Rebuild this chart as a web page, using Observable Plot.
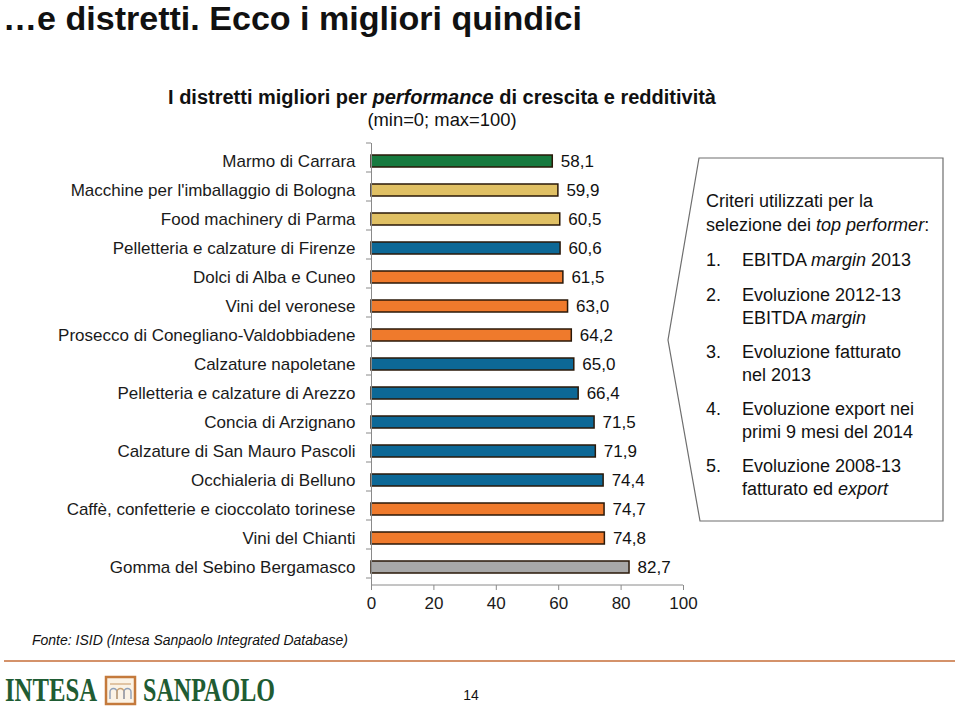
<!DOCTYPE html>
<html><head><meta charset="utf-8">
<script src="https://cdn.jsdelivr.net/npm/d3@7"></script>
<script src="https://cdn.jsdelivr.net/npm/@observablehq/plot@0.6"></script>
<style>
body{margin:0;background:#fff;}
#page{position:relative;width:959px;height:707px;overflow:hidden;font-family:"Liberation Sans",Arial,sans-serif;}
#chart{position:absolute;left:0;top:0;}
#overlay{position:absolute;left:0;top:0;pointer-events:none;}
#chart [aria-label^="x-axis"] line, #chart [aria-label="x-axis tick"] path{stroke:#8a8a8a;}
#chart [aria-label^="x-axis"] text{font-size:17px;}
</style></head><body>
<div id="page"><div id="chart"></div><svg id="overlay" width="959" height="707"></svg></div>
<script>
// ---- data ----
const categories = [
  "Marmo di Carrara",
  "Macchine per l'imballaggio di Bologna",
  "Food machinery di Parma",
  "Pelletteria e calzature di Firenze",
  "Dolci di Alba e Cuneo",
  "Vini del veronese",
  "Prosecco di Conegliano-Valdobbiadene",
  "Calzature napoletane",
  "Pelletteria e calzature di Arezzo",
  "Concia di Arzignano",
  "Calzature di San Mauro Pascoli",
  "Occhialeria di Belluno",
  "Caffè, confetterie e cioccolato torinese",
  "Vini del Chianti",
  "Gomma del Sebino Bergamasco"
];
const values = [58.1, 59.9, 60.5, 60.6, 61.5, 63.0, 64.2, 65.0, 66.4, 71.5, 71.9, 74.4, 74.7, 74.8, 82.7];
const groups = ["verde","giallo","giallo","blu","arancio","arancio","arancio","blu","blu","blu","blu","blu","arancio","arancio","grigio"];
const groupNames = ["verde","giallo","blu","arancio","grigio"];
const groupColors = ["#177a3f","#e0c064","#0d6896","#ef7a2c","#a8a8a8"];
const xTicks = [0, 20, 40, 60, 80, 100];

const titleText = "…e distretti. Ecco i migliori quindici";
const subtitleParts = [["I distretti migliori per ", false], ["performance", true], [" di crescita e redditività", false]];
const rangeNote = "(min=0; max=100)";
const criteriHeader = [
  [["Criteri utilizzati per la", false]],
  [["selezione dei ", false], ["top performer", true], [":", false]]
];
const criteriNumbers = ["1.", "2.", "3.", "4.", "5."];
const criteriItems = [
  [[["EBITDA ", false], ["margin", true], [" 2013", false]]],
  [[["Evoluzione 2012-13", false]], [["EBITDA ", false], ["margin", true]]],
  [[["Evoluzione fatturato", false]], [["nel 2013", false]]],
  [[["Evoluzione export nei", false]], [["primi 9 mesi del 2014", false]]],
  [[["Evoluzione 2008-13", false]], [["fatturato ed ", false], ["export", true]]]
];
const sourceText = "Fonte: ISID (Intesa Sanpaolo Integrated Database)";
const pageNumber = "14";

// ---- chart ----
const data = categories.map((name, i) => ({name, value: values[i], group: groups[i]}));
const fmt = v => d3.format(".1f")(v).replace(".", ",");

const chart = Plot.plot({
  width: 959, height: 620,
  marginTop: 143, marginBottom: 35, marginLeft: 371, marginRight: 276,
  style: {fontFamily: "Liberation Sans, Arial, sans-serif", fontSize: "17px", color: "#1a1a1a", background: "transparent"},
  x: {domain: [0, 100], ticks: xTicks, tickSize: 5, tickPadding: 6, label: null},
  y: {domain: categories, paddingInner: 0.6, paddingOuter: 0.3, tickSize: 0, tickPadding: 16, label: null},
  color: {domain: groupNames, range: groupColors},
  marks: [
    Plot.barX(data, {x: "value", y: "name", fill: "group", stroke: "#2a1808", strokeWidth: 1.5}),
    Plot.text(data, {x: "value", y: "name", text: d => fmt(d.value), textAnchor: "start", dx: 8, fontSize: 17, fill: "#111"}),
    Plot.ruleX([0], {stroke: "#8a8a8a"})
  ]
});
document.getElementById("chart").appendChild(chart);

// axis line at bottom + category boundary ticks (Excel-style)
const xs = chart.scale("x"), ys = chart.scale("y");
const [yTop, yBot] = ys.range;
const step = ys.step ?? (yBot - yTop) / categories.length;
const x0 = xs.apply(0), x100 = xs.apply(100);
const ax = d3.select(chart).append("g").attr("stroke", "#8a8a8a").attr("stroke-width", 1);
ax.append("line").attr("x1", x0).attr("x2", x100).attr("y1", yBot).attr("y2", yBot);
d3.range(categories.length + 1).forEach(i => {
  const yy = yTop + i * step;
  ax.append("line").attr("x1", x0 - 5).attr("x2", x0).attr("y1", yy).attr("y2", yy);
});

// ---- annotations ----
const ov = d3.select("#overlay");
const FF = "Liberation Sans, Arial, sans-serif";
function richText(sel, parts, x, y, size, weight, anchor) {
  const t = sel.append("text").attr("x", x).attr("y", y).attr("font-size", size)
    .attr("font-family", FF).attr("font-weight", weight || "normal").attr("fill", "#111")
    .attr("text-anchor", anchor || "start");
  parts.forEach(([s, it]) => t.append("tspan").attr("font-style", it ? "italic" : "normal").text(s));
  return t;
}
richText(ov, [[titleText, false]], 3, 30, 33, "bold")
  .attr("textLength", 579).attr("lengthAdjust", "spacingAndGlyphs");
richText(ov, subtitleParts, 442, 104, 20, "bold", "middle");
richText(ov, [[rangeNote, false]], 442, 126, 18.4, "normal", "middle");

// callout
ov.append("polygon")
  .attr("points", "699,158 943,158 943,521 700,521 668,340")
  .attr("fill", "#fff").attr("stroke", "#6e6e6e").attr("stroke-width", 1.2);
richText(ov, criteriHeader[0], 706, 207, 18);
richText(ov, criteriHeader[1], 706, 231, 18);
const itemBase = [266, 301, 358, 415, 472];
criteriItems.forEach((lines, i) => {
  richText(ov, [[criteriNumbers[i], false]], 706, itemBase[i], 18);
  lines.forEach((ln, j) => richText(ov, ln, 742, itemBase[i] + j * 22.5, 18));
});

// footer
richText(ov, [[sourceText, true]], 32, 645, 14);
ov.append("line").attr("x1", 4).attr("x2", 955).attr("y1", 661).attr("y2", 661)
  .attr("stroke", "#d4926a").attr("stroke-width", 2);
ov.append("text").attr("x", 5).attr("y", 701).attr("font-family", "Liberation Serif, DejaVu Serif, serif")
  .attr("font-weight", "bold").attr("font-size", 33).attr("fill", "#1f5c33")
  .attr("textLength", 92).attr("lengthAdjust", "spacingAndGlyphs").text("INTESA");
ov.append("text").attr("x", 143).attr("y", 701).attr("font-family", "Liberation Serif, DejaVu Serif, serif")
  .attr("font-weight", "bold").attr("font-size", 33).attr("fill", "#1f5c33")
  .attr("textLength", 132).attr("lengthAdjust", "spacingAndGlyphs").text("SANPAOLO");
const ic = ov.append("g");
ic.append("rect").attr("x", 106).attr("y", 677).attr("width", 29).attr("height", 27)
  .attr("fill", "#fbf3e6").attr("stroke", "#c47a3c").attr("stroke-width", 2.5);
ic.append("line").attr("x1", 110).attr("x2", 131).attr("y1", 684).attr("y2", 684).attr("stroke", "#d9b48c").attr("stroke-width", 1.5);
[110, 117, 124].forEach((ax0, k) => {
  ic.append("path").attr("d", `M${ax0},699 V692 a3.5,3.5 0 0 1 7,0 V699`)
    .attr("fill", "none").attr("stroke", k === 1 ? "#c9a070" : "#8f9fb8").attr("stroke-width", 1.4);
});
richText(ov, [[pageNumber, false]], 471, 700, 14, "normal", "middle");
</script>
</body></html>
